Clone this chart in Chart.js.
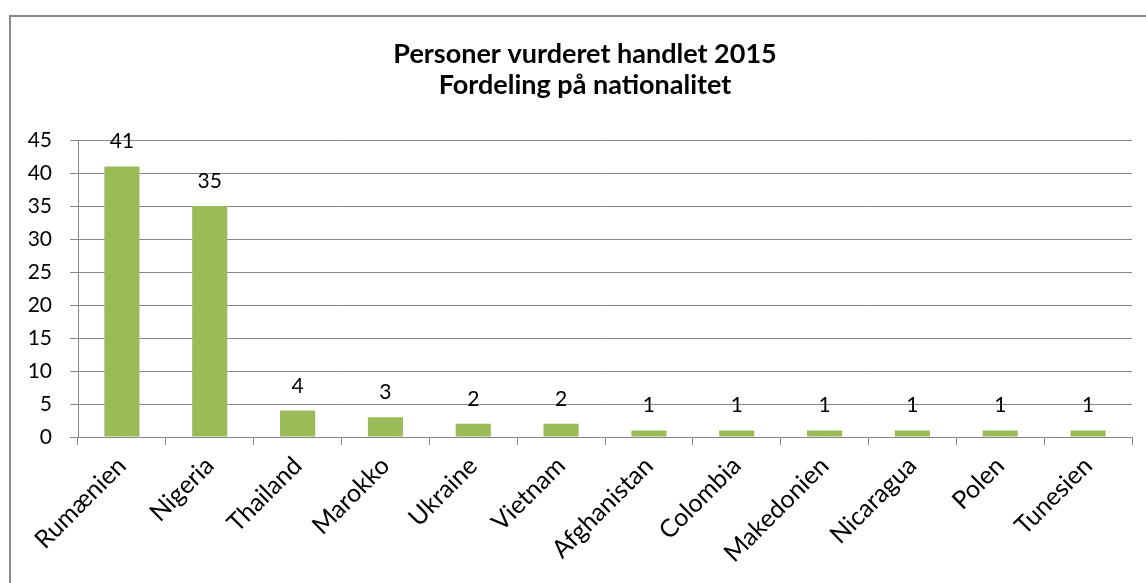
<!DOCTYPE html>
<html>
<head>
<meta charset="utf-8">
<script src="https://cdn.jsdelivr.net/npm/chart.js@4.4.0/dist/chart.umd.min.js"></script>
<style>
  html, body { margin: 0; padding: 0; background: #fff; overflow: hidden; width: 1146px; height: 583px; }
  #wrap { position: relative; width: 1146px; height: 583px; overflow: hidden; }
  #frame { position: absolute; left: 9px; top: 15px; width: 1200px; height: 700px; border: 2px solid #8a8a8a; box-sizing: border-box; pointer-events: none; }
  canvas { position: absolute; left: 0; top: 0; }
</style>
</head>
<body>
<div id="wrap">
  <canvas id="chart" width="1164" height="583"></canvas>
  <div id="frame"></div>
</div>
<script>
// data
const categories = ["Rumænien", "Nigeria", "Thailand", "Marokko", "Ukraine", "Vietnam",
  "Afghanistan", "Colombia", "Makedonien", "Nicaragua", "Polen", "Tunesien"];
const values = [41, 35, 4, 3, 2, 2, 1, 1, 1, 1, 1, 1];
const yTicks = [0, 5, 10, 15, 20, 25, 30, 35, 40, 45];
const titleLines = ["Personer vurderet handlet 2015", "Fordeling på nationalitet"];

const FONT = "Lato";
const GRID = "#868686";

// titel (tegnes selv, så den kan centreres over rammen)
const chartTitle = {
  id: "chartTitle",
  afterDraw(chart) {
    const ctx = chart.ctx;
    ctx.save();
    ctx.font = "bold 27px " + FONT;
    ctx.fillStyle = "#000";
    ctx.textAlign = "center";
    ctx.textBaseline = "alphabetic";
    titleLines.forEach((line, i) => {
      ctx.fillText(line, 585, 63 + i * 31);
    });
    ctx.restore();
  }
};

// tal over søjlerne
const valueLabels = {
  id: "valueLabels",
  afterDatasetsDraw(chart) {
    const ctx = chart.ctx;
    const meta = chart.getDatasetMeta(0);
    ctx.save();
    ctx.font = "21px " + FONT;
    ctx.fillStyle = "#000";
    ctx.textAlign = "center";
    ctx.textBaseline = "alphabetic";
    meta.data.forEach((bar, i) => {
      ctx.fillText(String(values[i]), bar.x, bar.y - 18);
    });
    ctx.restore();
  }
};

new Chart(document.getElementById("chart"), {
  type: "bar",
  data: {
    labels: categories,
    datasets: [{
      data: values,
      backgroundColor: "#9BBB59",
      borderWidth: 0,
      barPercentage: 0.4,
      categoryPercentage: 1
    }]
  },
  options: {
    responsive: false,
    animation: false,
    devicePixelRatio: 1,
    layout: { padding: { left: 0, right: 32, top: 140, bottom: 0 } },
    plugins: {
      legend: { display: false },
      tooltip: { enabled: false },
      title: { display: false }
    },
    scales: {
      x: {
        offset: true,
        grid: { offset: true, drawOnChartArea: false, drawTicks: true, tickLength: 8, color: GRID },
        border: { color: GRID, width: 1 },
        ticks: {
          color: "#000",
          font: { family: FONT, size: 25 },
          minRotation: 45,
          maxRotation: 45,
          autoSkip: false,
          padding: 6
        },
        afterFit: (axis) => { axis.height = 146; }
      },
      y: {
        min: 0,
        max: 45,
        afterBuildTicks: (axis) => { axis.ticks = yTicks.map(v => ({ value: v })); },
        grid: { color: GRID, tickLength: 8, drawTicks: true },
        border: { color: GRID, width: 1 },
        ticks: { color: "#000", font: { family: FONT, size: 21 }, padding: 18 },
        afterFit: (axis) => { axis.width = 78; }
      }
    }
  },
  plugins: [valueLabels, chartTitle]
});
</script>
</body>
</html>
